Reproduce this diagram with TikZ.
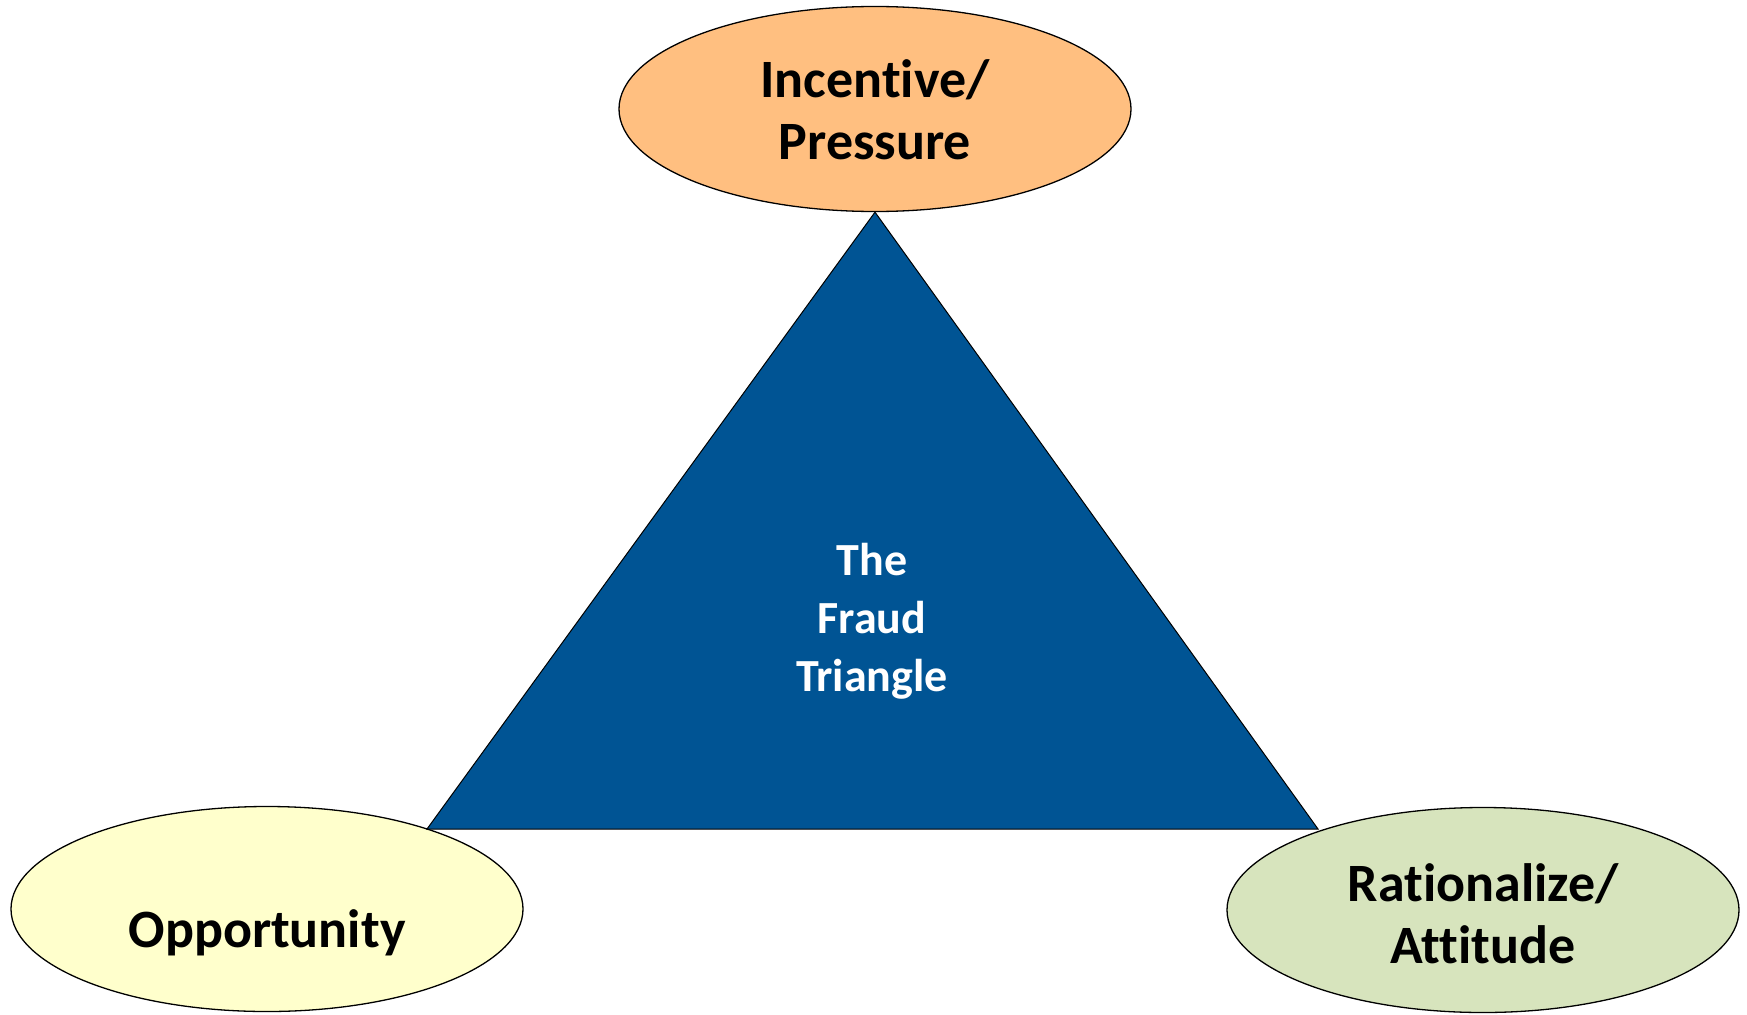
\documentclass[tikz,border=0pt]{standalone}
\usepackage{fontspec}
\setmainfont{Carlito}[Ligatures={NoCommon},Contextuals={NoAlternate}]
\usetikzlibrary{shapes.geometric}
\definecolor{orangefill}{HTML}{FFBF80}
\definecolor{yellowfill}{HTML}{FFFFCC}
\definecolor{greenfill}{HTML}{D7E4BD}
\definecolor{triblue}{HTML}{005494}
\tikzset{
  bubble/.style={ellipse, draw=black, line width=1.3pt, minimum width=512pt, minimum height=205pt, inner sep=0pt, align=center, font=\fontsize{54}{62}\selectfont\bfseries},
  tri/.style={fill=triblue, draw=black, line width=1pt, line join=miter},
  trilabel/.style={text=white, align=center, font=\fontsize{46}{58}\selectfont\bfseries},
  bubblelabel/.style={align=center, font=\fontsize{54}{62}\selectfont\bfseries}
}
\begin{document}
\begin{tikzpicture}[x=1pt,y=-1pt]
\useasboundingbox (0,0) rectangle (1747,1014);
\node[bubble, fill=orangefill] (inc) at (875,109) {};
\node[bubblelabel] (inct) at (875,110) {Incentive/\\Pressure};
\node[bubble, fill=yellowfill] (opp) at (267,909) {};
\node[bubble, fill=greenfill] (rat) at (1483,910) {};
\coordinate (bl) at (427,829);
\coordinate (br) at (1318,829);
\draw[tri] (inc.south) -- (br) -- (bl) -- cycle;
\node[trilabel] (tt) at (872,621) {The\\Fraud\\Triangle};
\node[bubblelabel] (oppt) at (267,933) {Opportunity};
\node[bubblelabel] (ratt) at (1483,914) {Rationalize/\\Attitude};
\end{tikzpicture}
\end{document}
